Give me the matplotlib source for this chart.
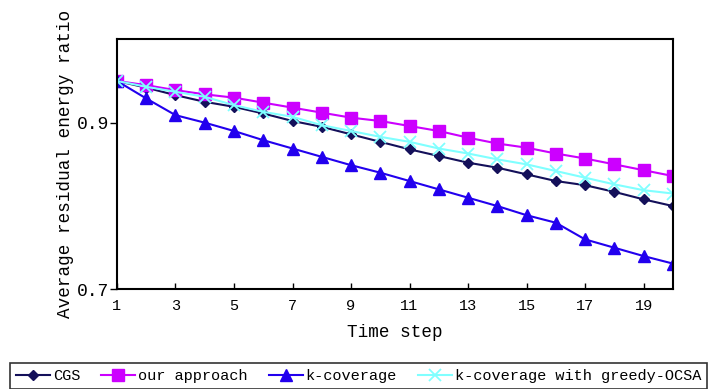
import matplotlib
matplotlib.use("Agg")
import matplotlib.pyplot as plt

plt.rcParams['font.family'] = ['Liberation Mono', 'DejaVu Sans Mono']

steps = list(range(1, 21))
cgs = [0.950, 0.942, 0.933, 0.925, 0.919, 0.911, 0.902, 0.895, 0.886, 0.877,
       0.868, 0.860, 0.852, 0.846, 0.838, 0.830, 0.825, 0.817, 0.808, 0.800]
ours = [0.950, 0.945, 0.939, 0.934, 0.930, 0.924, 0.918, 0.912, 0.906, 0.902,
        0.896, 0.890, 0.882, 0.875, 0.870, 0.863, 0.857, 0.850, 0.843, 0.836]
kcov = [0.950, 0.929, 0.909, 0.900, 0.890, 0.879, 0.869, 0.859, 0.849, 0.840,
        0.830, 0.820, 0.810, 0.800, 0.789, 0.780, 0.760, 0.750, 0.740, 0.731]
greedy = [0.950, 0.943, 0.937, 0.931, 0.921, 0.913, 0.907, 0.897, 0.890, 0.883,
          0.877, 0.869, 0.863, 0.856, 0.850, 0.842, 0.834, 0.826, 0.819, 0.815]

xticks = list(range(1, 20, 2))
yticks = [0.7, 0.9]
labels = ["CGS", "our approach", "k-coverage", "k-coverage with greedy-OCSA"]

fig = plt.figure(figsize=(7.09, 3.89), dpi=100)
ax = fig.add_axes([0.165, 0.256, 0.784, 0.643])

ax.plot(steps, cgs, color='#14105a', marker='D', ms=5, lw=1.5, label=labels[0])
ax.plot(steps, ours, color='#cc00ff', marker='s', ms=8, lw=1.5, label=labels[1])
ax.plot(steps, kcov, color='#2200ee', marker='^', ms=8, lw=1.5, label=labels[2])
ax.plot(steps, greedy, color='#80ffff', marker='x', ms=8, mew=1.3, lw=1.5, label=labels[3])

ax.set_xlim(1, 20)
ax.set_ylim(0.7, 1.0)
ax.set_xticks(xticks)
ax.set_yticks(yticks)
ax.set_yticklabels([str(v) for v in yticks])
ax.tick_params(axis='x', direction='in', length=4, width=1, labelsize=11, pad=7)
ax.tick_params(axis='y', direction='out', length=5, width=1, labelsize=13, pad=1)
for sp in ax.spines.values():
    sp.set_linewidth(1.5)

ax.set_xlabel("Time step", fontsize=12.7, labelpad=8)
ax.set_ylabel("Average residual energy ratio", fontsize=12.7, labelpad=2)

leg = fig.legend(loc='upper left', bbox_to_anchor=(0.014, 0.067), ncol=4,
                 fontsize=11, frameon=True, fancybox=False, edgecolor='black',
                 handlelength=2.2, handletextpad=0.2, columnspacing=1.4,
                 borderaxespad=0, borderpad=0.4)
leg.get_frame().set_linewidth(1.2)

fig.savefig("out.png", dpi=100)
